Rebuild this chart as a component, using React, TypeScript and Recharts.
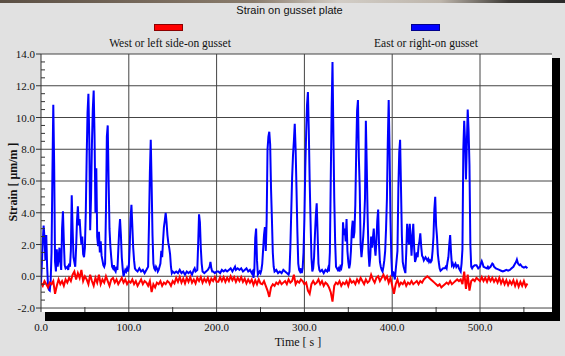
import { CartesianGrid, Line, LineChart, XAxis, YAxis } from "recharts";

const chartTitle = "Strain on gusset plate";
const xLabel = "Time [ s ]";
const yLabel = "Strain [ μm/m ]";

const seriesNames = ["West or left side-on gusset", "East or right-on gusset"];
const seriesColors = ["#ff0000", "#0000ff"];

const xTicks = [0, 50, 100, 150, 200, 250, 300, 350, 400, 450, 500, 550];
const xGrid = [100, 200, 300, 400, 500];
const yTicks = [
  -2, -1.5, -1, -0.5, 0, 0.5, 1, 1.5, 2, 2.5, 3, 3.5, 4, 4.5, 5, 5.5, 6, 6.5,
  7, 7.5, 8, 8.5, 9, 9.5, 10, 10.5, 11, 11.5, 12, 12.5, 13, 13.5, 14,
];
const yGrid = [-2, 0, 2, 4, 6, 8, 10, 12, 14];

// west gusset, one reading every 2 s from t = 0
const westStep = 2;
const westStrain = [
  -0.4, -0.6, -0.3, -0.5, -0.7, -0.4, -0.5,
  -0.3, -1.1, -0.6, -0.2, -0.5, -0.3, -0.6, -0.2, -0.4,
  -0.1, -0.3, 0.1, 0.3, -0.2, 0.2, -0.1, 0.4, -0.3, 0.0,
  -0.2, -0.5, 0.1, -0.3, -0.6, -0.1, -0.4, 0.1, -0.5, -0.2, -0.4, 0.0, -0.3,
  -0.6, -0.2, -0.1, -0.4, -0.2, -0.5, -0.3, -0.1, -0.4, -0.2, -0.5, -0.3,
  -0.4, -0.2, -0.5, -0.3, -0.6, -0.4, -0.2, -0.5, -0.3, -0.4, -0.6, -0.3, -1.0,
  -0.5, -0.7, -0.4, -0.5, -0.3, -0.6, -0.4, -0.5, -0.3, -0.4, -0.6, -0.3,
  -0.45, -0.1, -0.35, -0.05, -0.4, -0.15, -0.45, -0.1, -0.35, -0.05, -0.4, -0.2, -0.45,
  -0.1, -0.3, -0.05, -0.4, -0.15, -0.35, -0.1, -0.45, -0.15, -0.3, -0.05, -0.35,
  -0.35, -0.05, -0.3, -0.05, -0.35, -0.1, -0.3, 0.0, -0.25, -0.05, -0.35, -0.1, -0.3,
  -0.05, -0.35, -0.15, -0.45, -0.2, -0.4, -0.2, -0.55, -0.25, -0.5, -0.2, -0.45,
  -0.5, -0.3, -0.6, -0.9, -1.3, -0.7, -0.5, -0.6, -0.4, -0.5, -0.3, -0.5, -0.4,
  -0.3, -0.5, -0.2, -0.4, -0.3, 0.1, -0.5, -0.3, -0.4, -0.2, -0.3, -0.5,
  -0.4, -0.9, -1.1, -0.5, -0.3, -0.5, -0.4, -0.2, -0.5, -0.3, -0.6, -0.4, -0.5,
  -0.7, -1.0, -1.6, -0.6, -0.4, -0.5, -0.3, -0.6, -0.4, -0.5, -0.3, -0.6,
  -0.2, -0.4, -0.3, -0.5, -0.2, -0.4, -0.1, -0.3, -0.5, -0.2, -0.4, -0.3, 0.1,
  -0.2, -0.4, -0.1, 0.0, -0.3, -0.1, 0.1, -0.2, 0.0, -0.4, -0.1, -0.6,
  -1.1, -0.5, -0.2, -0.6, -0.4, -0.5, -0.3, -0.6, -0.4, -0.5, -0.3, -0.5, -0.4,
  -0.3, -0.5, -0.3, -0.4, -0.2, -0.1, 0.0, -0.1, -0.2, -0.3, -0.4, -0.5,
  -0.6, -0.5, -0.7, -0.6, -0.5, -0.4, -0.5, -0.3, -0.5, -0.4, -0.3, -0.2, -0.3,
  -0.2, -0.5, 0.3, -0.8, 0.1, -0.9, -0.3, -0.2, -0.3, -0.1, -0.2, -0.3,
  -0.05, -0.3, -0.1, -0.35, -0.05, -0.3, -0.1, -0.35, -0.15, -0.4, -0.1, -0.45, -0.2,
  -0.5, -0.25, -0.55, -0.3, -0.5, -0.25, -0.6, -0.3, -0.65, -0.35, -0.6, -0.3, -0.65,
  -0.45,
];

// east gusset, [time s, strain]
const eastSamples: [number, number][] = [
  [0, -0.4], [1, 0.8], [2, 2.2], [3, 3.2], [4, 2.4], [5, 1.0], [6, 2.6], [7, 0.6],
  [8, -0.6], [9, -0.85], [10, -0.9], [11, -0.3], [12, 1.5], [13, 6.5], [14, 10.8],
  [15, 7.0], [16, 0.9], [17, 0.3], [18, 1.7], [19, 0.6], [20, 1.1], [21, 1.8],
  [22, 0.9], [23, 0.4], [24, 3.0], [25, 4.1], [26, 2.2], [27, 0.7], [28, 0.5],
  [30, 0.6], [31, 0.4], [32, 0.8], [33, 0.6], [34, 1.6], [35, 5.1], [36, 3.0],
  [37, 1.2], [38, 0.9], [39, 0.6], [40, 1.8], [41, 3.5], [42, 4.4], [43, 3.2],
  [44, 3.6], [45, 2.7], [46, 2.0], [47, 2.5], [48, 1.4], [49, 1.2], [50, 1.8],
  [51, 4.0], [52, 7.4], [53, 10.3], [54, 11.5], [55, 8.6], [56, 2.9], [57, 5.0],
  [58, 8.3], [59, 10.5], [60, 11.7], [61, 8.8], [62, 4.0], [63, 6.8], [64, 2.5],
  [65, 1.9], [66, 2.8], [67, 1.5], [68, 2.2], [69, 1.3], [70, 1.0], [71, 0.7],
  [72, 0.6], [73, 0.8], [74, 4.2], [75, 8.8], [76, 9.5], [77, 6.0], [78, 3.0],
  [79, 1.9], [80, 1.2], [81, 0.6], [82, 0.5], [83, 0.7], [84, 0.4], [85, 0.3],
  [86, 0.6], [87, 0.4], [88, 1.6], [89, 2.8], [90, 3.6], [91, 2.6], [92, 1.2],
  [93, 0.5], [94, 0.0], [95, 0.2], [96, 0.4], [97, 0.3], [98, 0.5], [99, 0.3],
  [100, 0.6], [101, 1.8], [102, 3.6], [103, 4.5], [104, 3.2], [105, 1.8],
  [106, 1.0], [107, 0.5], [108, 0.4], [110, 0.3], [112, 0.5], [114, 0.3],
  [116, 0.4], [118, 0.2], [120, 0.4], [122, 0.6], [123, 3.3], [124, 6.5],
  [125, 8.6], [126, 5.8], [127, 2.6], [128, 0.8], [129, 0.5], [130, 0.4],
  [131, 0.6], [132, 0.5], [133, 0.3], [134, 0.4], [136, 0.8], [137, 1.6],
  [138, 1.2], [139, 2.2], [140, 3.1], [141, 3.5], [142, 4.0], [143, 3.4],
  [144, 2.6], [145, 2.1], [146, 1.8], [147, 1.4], [148, 0.6], [149, 0.2],
  [150, 0.3], [152, 0.2], [154, 0.3], [156, 0.2], [158, 0.4], [160, 0.2],
  [162, 0.3], [164, 0.1], [166, 0.3], [168, 0.2], [170, 0.3], [172, 0.1],
  [174, 0.4], [175, 0.5], [176, 0.3], [178, 0.4], [179, 2.0], [180, 3.9],
  [181, 3.4], [182, 1.8], [183, 0.8], [184, 0.3], [186, 0.2], [188, 0.3],
  [190, 0.4], [192, 0.6], [193, 0.9], [194, 0.5], [195, 0.3], [196, 0.3],
  [198, 0.2], [200, 0.3], [202, 0.3], [204, 0.2], [206, 0.4], [208, 0.3],
  [210, 0.4], [212, 0.3], [214, 0.4], [216, 0.5], [218, 0.3], [220, 0.5],
  [221, 0.6], [222, 0.4], [224, 0.5], [226, 0.4], [228, 0.5], [230, 0.3],
  [232, 0.4], [234, 0.5], [236, 0.3], [238, 0.4], [240, 0.2], [241, 0.3],
  [242, -0.1], [243, 0.4], [244, 2.4], [245, 3.0], [246, 1.0], [247, 0.1],
  [248, 0.2], [249, 0.3], [250, 0.2], [251, 0.4], [252, 0.8], [253, 1.7],
  [254, 2.6], [255, 3.1], [256, 1.6], [257, 3.5], [258, 8.0], [259, 8.8],
  [260, 9.1], [261, 8.3], [262, 5.5], [263, 3.6], [264, 1.5], [265, 0.6],
  [266, 0.3], [268, 0.4], [270, 0.2], [272, 0.3], [274, 0.2], [276, 0.4],
  [278, 0.3], [280, 0.2], [282, 0.1], [283, 0.3], [284, 1.8], [285, 4.0],
  [286, 6.2], [287, 7.6], [288, 8.5], [289, 9.6], [290, 8.0], [291, 5.5],
  [292, 2.8], [293, 0.8], [294, 0.4], [295, 0.3], [296, 0.5], [297, 0.2],
  [298, 0.5], [299, 1.5], [300, 3.6], [301, 6.8], [302, 9.0], [303, 10.8],
  [304, 11.6], [305, 9.2], [306, 6.0], [307, 3.5], [308, 1.2], [309, 0.3],
  [310, 0.5], [311, 1.2], [312, 2.6], [313, 3.8], [314, 4.6], [315, 2.8],
  [316, 0.8], [317, 0.4], [318, 0.3], [320, 0.4], [322, 0.2], [324, 0.4],
  [326, 0.3], [327, 0.5], [328, 0.3], [329, 1.5], [330, 6.0], [331, 10.5],
  [332, 13.5], [333, 9.0], [334, 4.9], [335, 2.2], [336, 0.6], [337, 0.5],
  [338, 0.4], [339, 0.5], [340, 0.3], [341, 0.6], [342, 0.5], [343, 0.8],
  [344, 3.4], [345, 2.6], [346, 3.0], [347, 2.2], [348, 3.6], [349, 1.6],
  [350, 0.9], [351, 0.5], [352, 0.8], [353, 1.6], [354, 2.9], [355, 3.5],
  [356, 2.4], [357, 2.8], [358, 4.5], [359, 7.8], [360, 10.4], [361, 11.1],
  [362, 7.5], [363, 5.6], [364, 2.0], [365, 1.2], [366, 1.8], [367, 2.5],
  [368, 3.4], [369, 4.9], [370, 9.8], [371, 7.0], [372, 3.8], [373, 1.5],
  [374, 0.6], [375, 1.2], [376, 2.5], [377, 1.8], [378, 2.4], [379, 3.0],
  [380, 1.9], [381, 1.3], [382, 2.2], [383, 3.5], [384, 4.2], [385, 2.0],
  [386, 0.9], [387, 0.6], [388, 0.4], [389, 0.3], [390, 0.6], [391, 1.0],
  [392, 1.6], [393, 3.0], [394, 4.9], [395, 8.5], [396, 11.1], [397, 8.0],
  [398, 3.7], [399, 1.2], [400, 0.0], [401, 0.3], [402, 0.1], [403, -0.2],
  [404, 0.4], [405, 1.0], [406, 1.6], [407, 5.5], [408, 7.8], [409, 8.6],
  [410, 5.6], [411, 2.6], [412, 0.9], [413, 0.6], [414, 0.4], [415, 0.2],
  [416, 1.5], [417, 3.3], [418, 2.6], [419, 2.0], [420, 3.3], [421, 2.5],
  [422, 1.3], [423, 2.4], [424, 3.3], [425, 1.8], [426, 0.9], [427, 1.1],
  [428, 1.5], [429, 1.2], [430, 1.9], [431, 2.2], [432, 2.7], [433, 1.9],
  [434, 1.3], [435, 1.2], [436, 1.0], [437, 1.1], [438, 1.2], [440, 1.0],
  [441, 1.1], [442, 0.9], [443, 1.0], [444, 0.9], [445, 1.0], [446, 1.6],
  [447, 2.5], [448, 4.2], [449, 5.0], [450, 3.2], [451, 2.5], [452, 1.4],
  [453, 0.9], [454, 0.5], [455, 0.35], [456, 0.4], [458, 0.5], [460, 0.5],
  [461, 0.6], [462, 0.5], [463, 0.9], [464, 1.2], [465, 2.0], [466, 2.6],
  [467, 1.5], [468, 0.7], [469, 0.8], [470, 0.6], [471, 0.7], [472, 0.8],
  [473, 0.6], [474, 0.7], [475, 0.7], [476, 0.5], [477, 0.4], [478, 0.3],
  [479, 0.8], [480, 1.7], [481, 8.0], [482, 9.8], [483, 8.5], [484, 6.1],
  [485, 8.3], [486, 10.5], [487, 9.2], [488, 7.0], [489, 2.0], [490, 0.6],
  [491, 0.5], [492, 0.6], [494, 0.7], [496, 0.7], [498, 0.5], [500, 0.6],
  [501, 0.8], [502, 0.95], [503, 0.8], [504, 0.6], [506, 0.55], [508, 0.5],
  [509, 0.6], [510, 0.5], [512, 0.6], [514, 0.8], [515, 0.75], [516, 0.6],
  [518, 0.5], [520, 0.45], [522, 0.4], [524, 0.35], [526, 0.3], [528, 0.35],
  [530, 0.4], [532, 0.35], [534, 0.4], [536, 0.5], [538, 0.6], [540, 0.8],
  [541, 0.9], [542, 1.05], [543, 0.85], [544, 0.75], [545, 0.7], [546, 0.75],
  [548, 0.6], [550, 0.55], [552, 0.6], [554, 0.5],
];

const westData = westStrain.map((v, i) => ({ t: i * westStep, v }));
const eastData = eastSamples.map(([t, v]) => ({ t, v }));

const W = 565;
const H = 356;
const PLOT_LEFT = 41;
const PLOT_TOP = 54;
const PLOT_RIGHT = 552;
const PLOT_BOTTOM = 312;
const serif = "'Liberation Serif', 'Times New Roman', serif";
const sans = "'Liberation Sans', Arial, sans-serif";

function YTick({ y, payload }: any) {
  const v = payload.value;
  if (v % 2 !== 0) {
    return <line x1={PLOT_LEFT} x2={PLOT_LEFT + 4} y1={y} y2={y} stroke="#333" />;
  }
  return (
    <g>
      <line x1={PLOT_LEFT - 5} x2={PLOT_LEFT} y1={y} y2={y} stroke="#333" />
      <text x={PLOT_LEFT - 6} y={y + 4} textAnchor="end" fontFamily={serif} fontSize={11} fill="#111">
        {v.toFixed(1)}
      </text>
    </g>
  );
}

function XTick({ x, payload }: any) {
  const v = payload.value;
  if (v % 100 !== 0) {
    return <line x1={x} x2={x} y1={PLOT_BOTTOM} y2={PLOT_BOTTOM - 5} stroke="#333" />;
  }
  return (
    <text x={x} y={PLOT_BOTTOM + 19} textAnchor="middle" fontFamily={serif} fontSize={11} fill="#111">
      {v.toFixed(1)}
    </text>
  );
}

const legendRects = [
  { left: 154, center: 170 },
  { left: 411, center: 426 },
];

export default function App() {
  return (
    <div style={{ position: "absolute", left: 0, top: 0, width: W, height: H, background: "#e1e1e1", overflow: "hidden" }}>
      {/* scrap of the photo above the screenshot */}
      <div
        style={{
          position: "absolute", left: 0, top: 0, width: W, height: 3,
          background: "linear-gradient(to right, #5b4f44 0%, #8a7c6c 45%, #d2cdc6 60%, #bdb5ab 78%, #3d3a36 90%, #2a2a2a 100%)",
        }}
      />
      {/* drop shadow of the plot box */}
      <div
        style={{
          position: "absolute", left: PLOT_LEFT + 4, top: PLOT_TOP + 4,
          width: PLOT_RIGHT - PLOT_LEFT + 4, height: PLOT_BOTTOM - PLOT_TOP + 4.5, background: "#000",
        }}
      />
      <div style={{ position: "absolute", left: 0, top: 4, width: W, textAlign: "center", fontFamily: sans, fontSize: 11, color: "#111", paddingLeft: 14, boxSizing: "border-box" }}>
        {chartTitle}
      </div>
      {seriesNames.map((name, i) => (
        <div key={name}>
          <div
            style={{
              position: "absolute", left: legendRects[i].left, top: 24, width: 29, height: 7,
              background: seriesColors[i], border: "1px solid rgba(0,0,0,0.45)", boxSizing: "border-box",
            }}
          />
          <div
            style={{
              position: "absolute", left: legendRects[i].center - 100, top: 37, width: 200, textAlign: "center",
              fontFamily: serif, fontSize: 11.5, color: "#111", whiteSpace: "nowrap",
            }}
          >
            {name}
          </div>
        </div>
      ))}
      <div
        style={{
          position: "absolute", left: 13 - 60, top: 182 - 8, width: 120, height: 16, lineHeight: "16px",
          textAlign: "center", transform: "rotate(-90deg)", fontFamily: serif, fontWeight: "bold", fontSize: 12, color: "#111",
        }}
      >
        {yLabel}
      </div>
      <div style={{ position: "absolute", left: 298 - 50, top: 335, width: 100, textAlign: "center", fontFamily: serif, fontSize: 12, color: "#111" }}>
        {xLabel}
      </div>
      <div style={{ position: "absolute", left: 0, top: 0 }}>
        <LineChart
          width={W}
          height={H}
          margin={{ top: PLOT_TOP, right: W - PLOT_RIGHT, bottom: H - PLOT_BOTTOM - 30, left: 0 }}
        >
          <CartesianGrid
            horizontalValues={yGrid}
            verticalValues={xGrid}
            stroke="#444"
            strokeWidth={1}
            fill="#ffffff"
            fillOpacity={1}
          />
          <XAxis
            type="number"
            dataKey="t"
            domain={[0, 582]}
            ticks={xTicks}
            tick={<XTick />}
            tickLine={false}
            axisLine={false}
            height={30}
            allowDataOverflow
          />
          <YAxis
            type="number"
            domain={[-2.25, 14]}
            ticks={yTicks}
            tick={<YTick />}
            tickLine={false}
            axisLine={{ stroke: "#333" }}
            width={PLOT_LEFT}
            interval={0}
            allowDataOverflow
          />
          <Line
            data={eastData}
            dataKey="v"
            name={seriesNames[1]}
            type="linear"
            stroke={seriesColors[1]}
            strokeWidth={2}
            dot={false}
            isAnimationActive={false}
          />
          <Line
            data={westData}
            dataKey="v"
            name={seriesNames[0]}
            type="linear"
            stroke={seriesColors[0]}
            strokeWidth={2}
            dot={false}
            isAnimationActive={false}
          />
        </LineChart>
      </div>
    </div>
  );
}
